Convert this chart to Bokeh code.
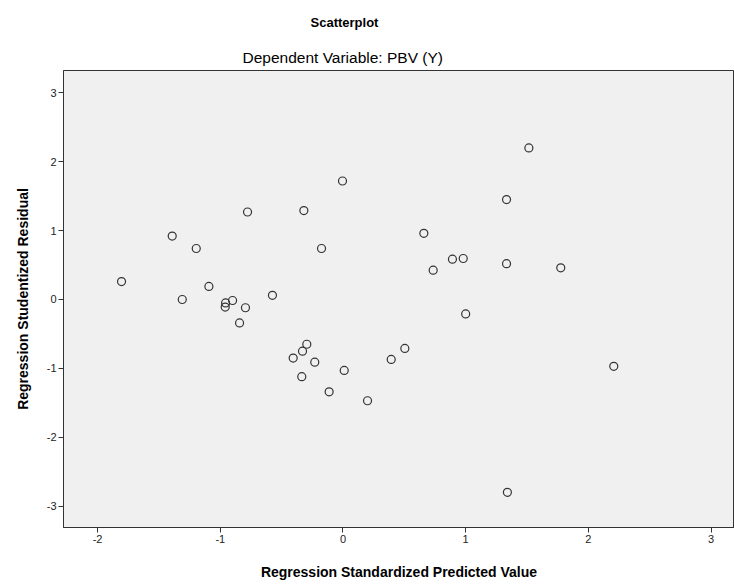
from bokeh.plotting import figure
from bokeh.models import Range1d, FixedTicker, Title
from bokeh.embed import file_html
from bokeh.resources import INLINE

# Regression Standardized Predicted Value (x) and Studentized Residual (y)
pred = [-0.004, -0.778, -0.319, -1.392, -1.196, -0.175, -1.805, -1.093, -1.31,
        -0.575, -0.90, -0.957, -0.96, -0.795, -0.843, -0.295, -0.33, -0.406,
        -0.23, 0.393, 0.01, -0.336, -0.113, 0.20,
        1.515, 1.333, 0.659, 0.892, 0.98, 0.735, 1.333, 1.775, 1.00, 0.504,
        2.207, 1.34]
resid = [1.72, 1.27, 1.29, 0.92, 0.74, 0.74, 0.26, 0.19, 0.00,
         0.06, -0.015, -0.05, -0.11, -0.12, -0.34, -0.65, -0.75, -0.85,
         -0.91, -0.87, -1.03, -1.12, -1.34, -1.47,
         2.20, 1.45, 0.96, 0.585, 0.595, 0.425, 0.52, 0.46, -0.21, -0.71,
         -0.97, -2.80]

x_ticks = [-2, -1, 0, 1, 2, 3]
y_ticks = [-3, -2, -1, 0, 1, 2, 3]

FONT = "Liberation Sans"

p = figure(width=734, height=584, output_backend="svg", toolbar_location=None,
           x_range=Range1d(-2.278, 3.191), y_range=Range1d(-3.31, 3.324),
           min_border_left=63, min_border_right=0, min_border_top=70,
           min_border_bottom=57, background_fill_color="#F0F0F0",
           border_fill_color="white", outline_line_color="#333333",
           outline_line_width=1)

p.xgrid.visible = False
p.ygrid.visible = False

p.scatter(pred, resid, marker="circle", size=8, fill_color=None,
          line_color="#333333", line_width=1.2)

for ax in (p.xaxis[0], p.yaxis[0]):
    ax.axis_line_color = "#333333"
    ax.major_tick_line_color = "#333333"
    ax.major_tick_out = 5
    ax.major_tick_in = 0
    ax.minor_tick_line_color = None
    ax.major_label_text_font = FONT
    ax.major_label_text_font_size = "11px"
    ax.major_label_text_color = "#222222"
    ax.axis_label_text_font = FONT
    ax.axis_label_text_font_size = "14px"
    ax.axis_label_text_font_style = "bold"
    ax.axis_label_text_color = "black"
    ax.major_label_standoff = 2

p.xaxis.ticker = FixedTicker(ticks=x_ticks)
p.yaxis.ticker = FixedTicker(ticks=y_ticks)
p.xaxis.major_label_overrides = {t: str(t) for t in x_ticks}
p.yaxis.major_label_overrides = {t: str(t) for t in y_ticks}
p.xaxis.axis_label = "Regression Standardized Predicted Value"
p.yaxis.axis_label = "Regression Studentized Residual"
p.xaxis.axis_label_standoff = 18
p.yaxis.axis_label_standoff = 13

p.add_layout(Title(text="Dependent Variable: PBV (Y)", align="left", offset=179,
                   text_font=FONT, text_font_size="15.5px",
                   text_font_style="normal", text_color="black"), "above")
p.add_layout(Title(text="Scatterplot", align="left", offset=247, standoff=24,
                   text_font=FONT, text_font_size="13px",
                   text_font_style="bold", text_color="black"), "above")

open("out.html", "w").write(file_html(p, INLINE))
